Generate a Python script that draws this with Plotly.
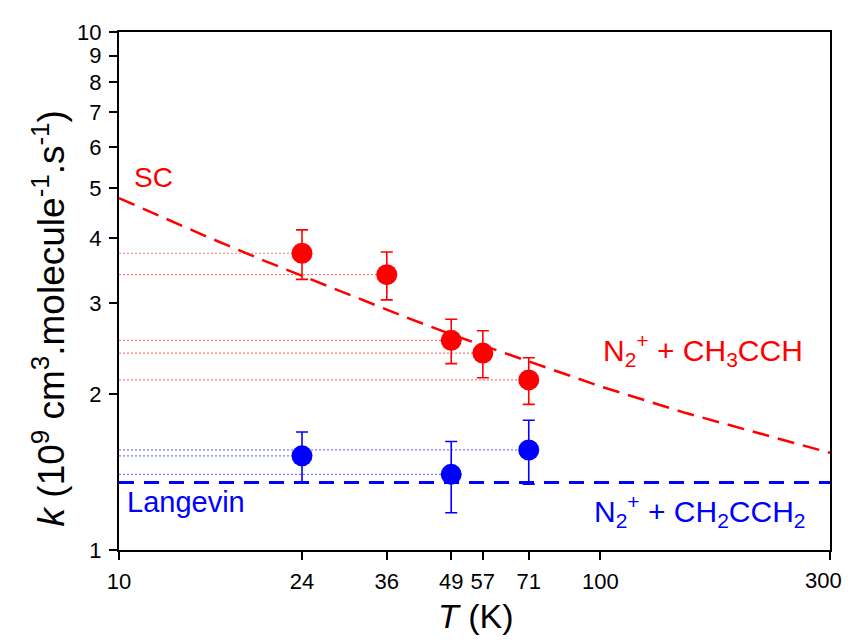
import plotly.graph_objects as go

# Data
T_red = [24, 36, 49, 57, 71]
k_red = [3.74, 3.40, 2.54, 2.40, 2.13]
err_red = [0.41, 0.36, 0.25, 0.25, 0.22]

T_blue = [24, 49, 71]
k_blue = [1.52, 1.40, 1.56]
err_blue = [0.17, 0.22, 0.22]

T_sc = [10, 15, 20, 30, 40, 50, 70, 100, 150, 200, 300]
k_sc = [4.78, 4.05, 3.62, 3.11, 2.80, 2.59, 2.32, 2.07, 1.84, 1.71, 1.54]

T_lang = [10, 300]
k_lang = [1.35, 1.35]

x_ticks = [10, 24, 36, 49, 57, 71, 100, 300]
x_ticktext = ["10", "24", "36", "49", "57", "71", "100", ""]  # "300" drawn separately so it is not clipped
y_ticks = [1, 2, 3, 4, 5, 6, 7, 8, 9, 10]

RED = "#ff0000"
BLUE = "#0000ff"
FONT = "Arial, Liberation Sans, sans-serif"

fig = go.Figure()

# dotted guide lines from the y axis to each point
for t, k in zip(T_red, k_red):
    fig.add_trace(go.Scatter(x=[10, t], y=[k, k], mode="lines",
                             line=dict(color="#ff7878", width=1.2, dash="2px,2px"),
                             showlegend=False, hoverinfo="skip"))
for t, k in zip(T_blue, k_blue):
    fig.add_trace(go.Scatter(x=[10, t], y=[k, k], mode="lines",
                             line=dict(color="#7878ff", width=1.2, dash="2px,2px"),
                             showlegend=False, hoverinfo="skip"))

# SC capture curve
fig.add_trace(go.Scatter(x=T_sc, y=k_sc, mode="lines",
                         line=dict(color=RED, width=2.5, dash="17px,9px"),
                         showlegend=False))
# Langevin
fig.add_trace(go.Scatter(x=T_lang, y=k_lang, mode="lines",
                         line=dict(color=BLUE, width=3, dash="15px,10px"),
                         showlegend=False))

# data points
fig.add_trace(go.Scatter(x=T_red, y=k_red, mode="markers",
                         marker=dict(color=RED, size=21),
                         error_y=dict(type="data", array=err_red, color=RED,
                                      thickness=1.6, width=6),
                         showlegend=False))
fig.add_trace(go.Scatter(x=T_blue, y=k_blue, mode="markers",
                         marker=dict(color=BLUE, size=21),
                         error_y=dict(type="data", array=err_blue, color=BLUE,
                                      thickness=1.6, width=6),
                         showlegend=False))

fig.add_annotation(x=0.0485, y=0.72, xref="paper", yref="paper",
                   xanchor="center", yanchor="middle",
                   text="SC", showarrow=False, font=dict(color=RED, size=28, family=FONT))
fig.add_annotation(x=0.0084, y=0.0927, xref="paper", yref="paper",
                   xanchor="left", yanchor="middle",
                   text="Langevin", showarrow=False, font=dict(color=BLUE, size=29, family=FONT))
fig.add_annotation(x=0.965, y=0.387, xref="paper", yref="paper",
                   xanchor="right", yanchor="middle",
                   text="N<sub>2</sub><sup>+</sup> + CH<sub>3</sub>CCH", showarrow=False,
                   font=dict(color=RED, size=30, family=FONT))
fig.add_annotation(x=0.969, y=0.076, xref="paper", yref="paper",
                   xanchor="right", yanchor="middle",
                   text="N<sub>2</sub><sup>+</sup> + CH<sub>2</sub>CCH<sub>2</sub>", showarrow=False,
                   font=dict(color=BLUE, size=30, family=FONT))

# last x tick label, kept inside the figure
fig.add_annotation(x=1.0195, y=-0.0595, xref="paper", yref="paper",
                   xanchor="right", yanchor="middle",
                   text="300", showarrow=False,
                   font=dict(color="black", size=22, family=FONT))

# axis titles
fig.add_annotation(x=0.502, y=-0.1265, xref="paper", yref="paper",
                   xanchor="center", yanchor="middle",
                   text="<i>T</i> (K)", showarrow=False,
                   font=dict(color="black", size=34, family=FONT))
fig.add_annotation(x=-0.0985, y=0.447, xref="paper", yref="paper",
                   xanchor="center", yanchor="middle", textangle=-90,
                   text="<i>k</i> (10<sup>9</sup> cm<sup>3</sup>.molecule<sup>-1</sup>.s<sup>-1</sup>)",
                   showarrow=False, font=dict(color="black", size=37, family=FONT))

fig.update_xaxes(type="log", range=[1, 2.4771], tickvals=x_ticks,
                 ticktext=x_ticktext,
                 ticks="outside", ticklen=8, tickwidth=2, tickcolor="black",
                 ticklabelstandoff=3,
                 showline=True, linecolor="black", linewidth=2, mirror=True,
                 showgrid=False, zeroline=False,
                 tickfont=dict(size=22, family=FONT, color="black"))
fig.update_yaxes(type="log", range=[0, 1], tickvals=y_ticks,
                 ticktext=[str(v) for v in y_ticks],
                 ticks="outside", ticklen=8, tickwidth=2, tickcolor="black",
                 ticklabelstandoff=3,
                 showline=True, linecolor="black", linewidth=2, mirror=True,
                 showgrid=False, zeroline=False,
                 tickfont=dict(size=22, family=FONT, color="black"))

# the page body has an 8px margin on every side: size the figure so that
# it fits inside the 853x644 window without overflow
fig.update_layout(width=837, height=628, plot_bgcolor="white", paper_bgcolor="white",
                  margin=dict(l=111, r=15, t=21, b=86), showlegend=False)

fig.write_html("out.html")
